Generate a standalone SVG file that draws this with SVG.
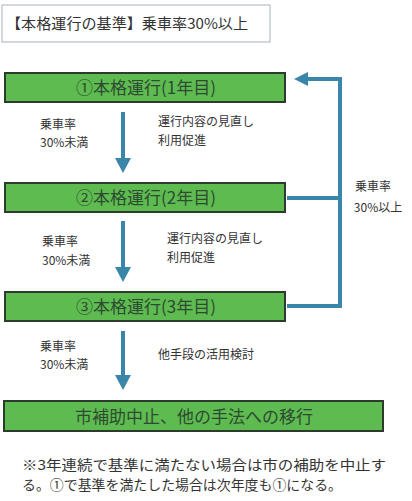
<svg xmlns="http://www.w3.org/2000/svg" width="412" height="501" viewBox="0 0 412 501">
<style>
text{font-family:"Noto Sans CJK JP","Noto Sans",sans-serif;}
.box{fill:#5dbb4f;stroke:#2d3b2d;stroke-width:2;}
.bt{font-size:17px;fill:#2f4a33;text-anchor:middle;}
.lbl{font-size:12px;fill:#333;}
.con{stroke:#3a86ab;stroke-width:4;fill:none;}
.ah{fill:#3a86ab;}
</style>
<rect width="412" height="501" fill="#ffffff"/>
<g id="criteria">
<rect x="2" y="5" width="268" height="37" fill="#fff" stroke="#b8c0c8" stroke-width="1.2"/>
<text x="6" y="29" font-size="14.5" fill="#333" textLength="242" lengthAdjust="spacingAndGlyphs">【本格運行の基準】乗車率30%以上</text>
</g>
<g id="connectors">
<path class="con" d="M123 112 V160"/>
<polygon class="ah" points="115,158 131,158 123,173"/>
<path class="con" d="M123 221 V269"/>
<polygon class="ah" points="115,267 131,267 123,282"/>
<path class="con" d="M123 331 V377"/>
<polygon class="ah" points="115,375 131,375 123,390"/>
<path class="con" d="M287 198 H340 M287 306 H340 V79 H306"/>
<polygon class="ah" points="308,72 308,86 294,79"/>
</g>
<g id="node1">
<rect class="box" x="5" y="73" width="280" height="29"/>
<text class="bt" x="146" y="94">①本格運行(1年目)</text>
</g>
<g id="node2">
<rect class="box" x="5" y="183" width="280" height="29"/>
<text class="bt" x="146" y="204">②本格運行(2年目)</text>
</g>
<g id="node3">
<rect class="box" x="5" y="292" width="280" height="29"/>
<text class="bt" x="146" y="313">③本格運行(3年目)</text>
</g>
<g id="node4">
<rect class="box" x="4" y="401" width="379" height="30"/>
<text class="bt" x="194" y="423" font-size="18">市補助中止、他の手法への移行</text>
</g>
<g id="labels">
<text class="lbl" x="40" y="129">乗車率</text>
<text class="lbl" x="40" y="147">30%未満</text>
<text class="lbl" x="158" y="126">運行内容の見直し</text>
<text class="lbl" x="158" y="145">利用促進</text>
<text class="lbl" x="42" y="246">乗車率</text>
<text class="lbl" x="42" y="265">30%未満</text>
<text class="lbl" x="167" y="243">運行内容の見直し</text>
<text class="lbl" x="167" y="262">利用促進</text>
<text class="lbl" x="40" y="351">乗車率</text>
<text class="lbl" x="40" y="369">30%未満</text>
<text class="lbl" x="158" y="359">他手段の活用検討</text>
<text class="lbl" x="373" y="191" text-anchor="middle">乗車率</text>
<text class="lbl" x="378" y="212" text-anchor="middle">30%以上</text>
</g>
<g id="note">
<text x="22" y="470" font-size="13.5" fill="#333" textLength="364" lengthAdjust="spacingAndGlyphs">※3年連続で基準に満たない場合は市の補助を中止す</text>
<text x="22" y="490" font-size="13.5" fill="#333" textLength="320" lengthAdjust="spacingAndGlyphs">る。①で基準を満たした場合は次年度も①になる。</text>
</g>
</svg>
